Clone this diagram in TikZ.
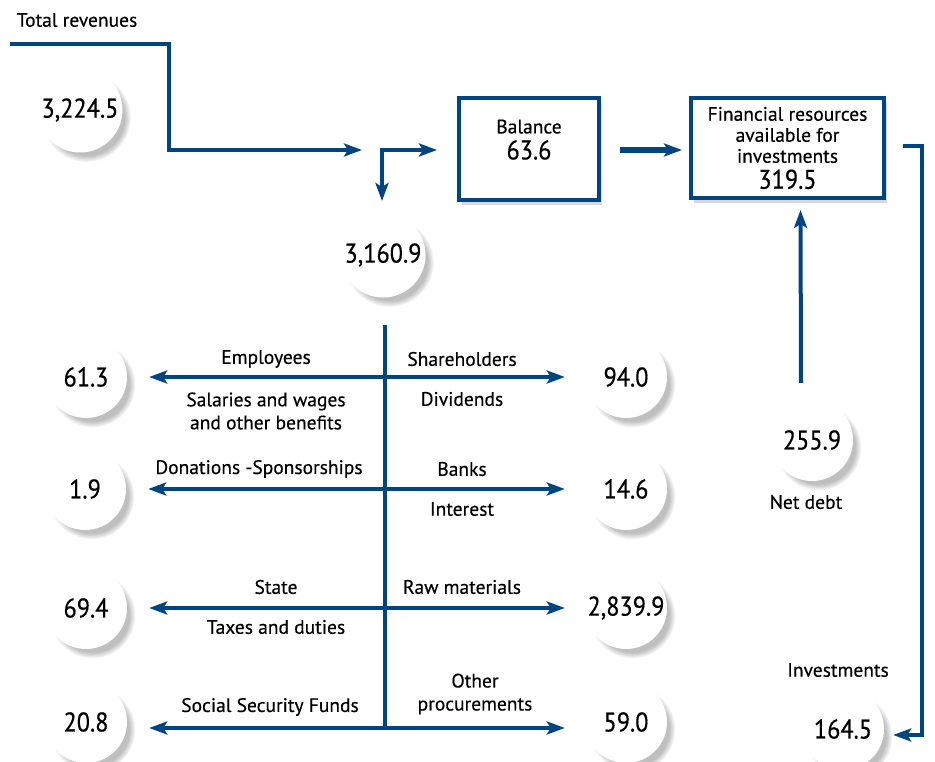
\documentclass[tikz,border=0pt]{standalone}
\usepackage{fontspec}
\setmainfont{PT Sans}[FakeBold=0.35]
\newfontfamily\numfont{PT Sans}[FakeStretch=0.9,FakeBold=0.45]
\usetikzlibrary{arrows.meta,shadows,calc}
\definecolor{flow}{RGB}{0,68,130}
\newcommand\numsize{\numfont\fontsize{27}{30}\selectfont}
\tikzset{
  flowline/.style={draw=flow,line width=4pt},
  tip/.tip={Stealth[length=18pt,width=13pt,inset=4pt]},
  flowarrow/.style={flowline,-tip},
  valcircle/.style={circle,fill=white,minimum size=82pt,inner sep=0pt,
    circular drop shadow={shadow xshift=6pt,shadow yshift=-7pt,opacity=0.5,shadow scale=1.05},
    font=\numsize},
  bigcircle/.style={valcircle,minimum size=85pt},
  lbl/.style={font=\fontsize{19.5}{23}\selectfont,align=center,inner sep=0pt},
  box/.style={draw=flow,line width=4pt,fill=white,align=center,inner sep=0pt,
    drop shadow={shadow xshift=3pt,shadow yshift=-5pt,opacity=0.3},
    font=\fontsize{19.5}{23}\selectfont}
}
\begin{document}
\begin{tikzpicture}[x=1pt,y=-1pt]
\useasboundingbox (0,0) rectangle (935,762);

% revenues and what remains after distribution
\node[lbl] (trlabel) at (77,20) {Total revenues};
\node[bigcircle] (total) at (80,110) {3,224.5};
\node[bigcircle] (distrib) at (383,255) {3,160.9};
\coordinate (revin) at (10,44);
\coordinate (revout) at (362,150);
\draw[flowarrow] (revin) -| (169,150) -- (revout);

% boxes
\node[box,minimum width=140pt,minimum height=102pt] (bal) at (529,149)
  {Balance\\[3pt]{\numsize 63.6}\\[-4pt]};
\node[box,minimum width=193pt,minimum height=100pt] (fin) at (787.5,148)
  {Financial resources\\[-2pt]available for\\[-2pt]investments\\[3pt]{\numsize 319.5}};

% split towards balance and distribution
\coordinate (todist) at (382,201);
\coordinate (tobal) at (437,150);
\draw[flowline,tip-tip] (todist) |- (tobal);

% balance to financial resources
\draw[flowarrow,line width=6pt] ($(bal.east)+(19,1)$) -- ($(fin.west)+(-7,2)$);

% net debt
\node[valcircle] (debt) at (812,440) {255.9};
\node[lbl] (debtlabel) at (806,502) {Net debt};
\draw[flowarrow] ($(debt.north)+(-11,-16)$) -- ($(fin.south)+(13,10)$);

% investments
\node[valcircle] (inv) at (843,729) {164.5};
\node[lbl] (invlabel) at (838,670) {Investments};
\draw[flowarrow] ($(fin.east)+(17,-2)$) -| (922,735) -- ($(inv.east)+(9,6)$);

% distribution trunk
\coordinate (trunktop) at (385,325);
\coordinate (r1) at (385,377);
\coordinate (r2) at (385,489);
\coordinate (r3) at (385,608);
\coordinate (r4) at (385,728);
\draw[flowline] (trunktop) -- ($(r4)+(0,2)$);

% left recipients
\node[valcircle] (empl) at (86,377) {61.3};
\node[valcircle] (don) at (85,489) {1.9};
\node[valcircle] (state) at (86,608) {69.4};
\node[valcircle] (ssf) at (86,722) {20.8};
% right recipients
\node[valcircle] (share) at (626,377) {94.0};
\node[valcircle] (banks) at (626,489) {14.6};
\node[valcircle] (raw) at (626,608) {2,839.9};
\node[valcircle] (other) at (626,722) {59.0};

\foreach \r/\l/\rr in {r1/empl/share,r2/don/banks,r3/state/raw,r4/ssf/other}{
  \draw[flowarrow] (\r) -- ($(\l.east |- \r)+(22,0)$);
  \draw[flowarrow] (\r) -- ($(\rr.west |- \r)+(-20,0)$);
}

% labels
\node[lbl] (l1a) at (266,359) {Employees};
\node[lbl] (l1b) at (266,411) {Salaries and wages\\[0pt]and other benefits};
\node[lbl] (l1c) at (462,359) {Shareholders};
\node[lbl] (l1d) at (462,399) {Dividends};
\node[lbl] (l2a) at (259,469) {Donations -Sponsorships};
\node[lbl] (l2b) at (462,469) {Banks};
\node[lbl] (l2c) at (462,509) {Interest};
\node[lbl] (l3a) at (276,587) {State};
\node[lbl] (l3b) at (276,627) {Taxes and duties};
\node[lbl] (l3c) at (462,587) {Raw materials};
\node[lbl] (l4a) at (270,707) {Social Security Funds};
\node[lbl] (l4b) at (475,694) {Other\\[0pt]procurements};
\end{tikzpicture}
\end{document}
